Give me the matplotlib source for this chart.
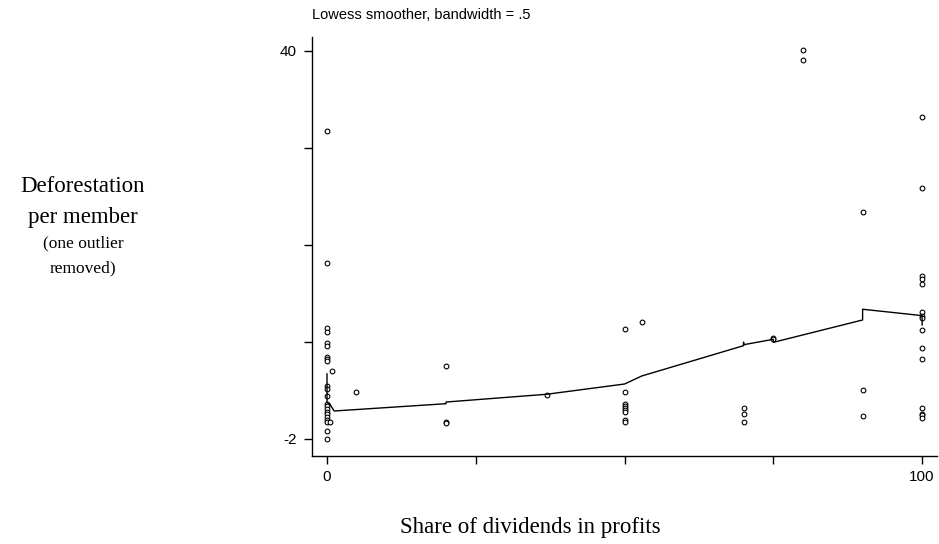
import matplotlib
matplotlib.use('Agg')
import matplotlib.pyplot as plt

# scatter: share of dividends (x) vs deforestation per member (y)
share_x = [0]*22 + [0.5, 0.9, 4.9, 20, 20, 20, 36.9] \
    + [50]*9 + [52.9] + [70]*3 + [75, 75] + [80, 80] + [90]*3 + [100]*15
defor_y = [31.34, 17.05, 9.98, 9.55, 8.36, 8.10, 6.88, 6.66, 6.41, 3.77, 3.44,
           2.69, 1.82, 1.57, 1.25, 0.95, 0.67, 0.35, 0.06, -0.16, -1.13, -2.03,
           -0.19, 5.36, 3.10, 5.93, -0.12, -0.25, 2.76,
           9.87, 3.10, 1.84, 1.62, 1.36, 1.12, 0.91, 0.10, -0.11,
           10.70,
           1.35, 0.67, -0.13,
           8.97, 8.80,
           40.1, 39.03,
           22.6, 3.30, 0.52,
           32.8, 25.14, 15.64, 15.35, 14.75, 11.75, 11.35, 11.06, 9.80, 7.88,
           6.66, 1.31, 0.70, 0.55, 0.23]

# lowess fitted line (bandwidth .5)
fit_x = [0, 0, 0.5, 1.2, 20, 20, 36.9, 50, 52.9, 70, 70, 70, 75, 75, 90, 90, 100, 100]
fit_y = [5.04, 1.93, 1.76, 1.03, 1.82, 2.0, 2.84, 3.95, 4.82, 8.10, 8.46, 8.2,
         8.79, 8.46, 10.88, 12.04, 11.35, 10.34]

yticks = [-2, 8.5, 19, 29.5, 40]
ytick_labels = ['-2', '', '', '', '40']
xticks = [0, 25, 50, 75, 100]
xtick_labels = ['0', '', '', '', '100']

W, H = 939, 544
fig = plt.figure(figsize=(W/100, H/100), dpi=100)
ax = fig.add_axes([312/W, 1 - 456/H, (937-312)/W, (456-37)/H])

ax.plot(share_x, defor_y, 'o', ms=3.4, mfc='white', mec='black', mew=0.8)
ax.plot(fit_x, fit_y, color='black', lw=1)

ax.set_xlim(-2.52, 102.5)
ax.set_ylim(-3.84, 41.5)
ax.set_xticks(xticks)
ax.set_xticklabels(xtick_labels)
ax.set_yticks(yticks)
ax.set_yticklabels(ytick_labels)
for s in ['top', 'right']:
    ax.spines[s].set_visible(False)
for s in ['left', 'bottom']:
    ax.spines[s].set_linewidth(1.0)
ax.tick_params(direction='out', length=6, width=1, labelsize=11, pad=4)
ax.tick_params(axis='y', pad=5)
for lab in ax.get_xticklabels() + ax.get_yticklabels():
    lab.set_family('Liberation Sans')

fig.text(312/W, 1 - 15/H, 'Lowess smoother, bandwidth = .5', family='Liberation Sans',
         fontsize=10.5, ha='left', va='center')

serif = 'Liberation Serif'
fig.text(83/W, 1 - 187/H, 'Deforestation', family=serif, fontsize=16.5, ha='center', va='center')
fig.text(83/W, 1 - 217/H, 'per member', family=serif, fontsize=16.5, ha='center', va='center')
fig.text(83/W, 1 - 243/H, '(one outlier', family=serif, fontsize=12.5, ha='center', va='center')
fig.text(83/W, 1 - 268/H, 'removed)', family=serif, fontsize=12.5, ha='center', va='center')

fig.text(530/W, 1 - 528/H, 'Share of dividends in profits', family=serif, fontsize=16.5,
         ha='center', va='center')

fig.savefig('out.png', dpi=100)
